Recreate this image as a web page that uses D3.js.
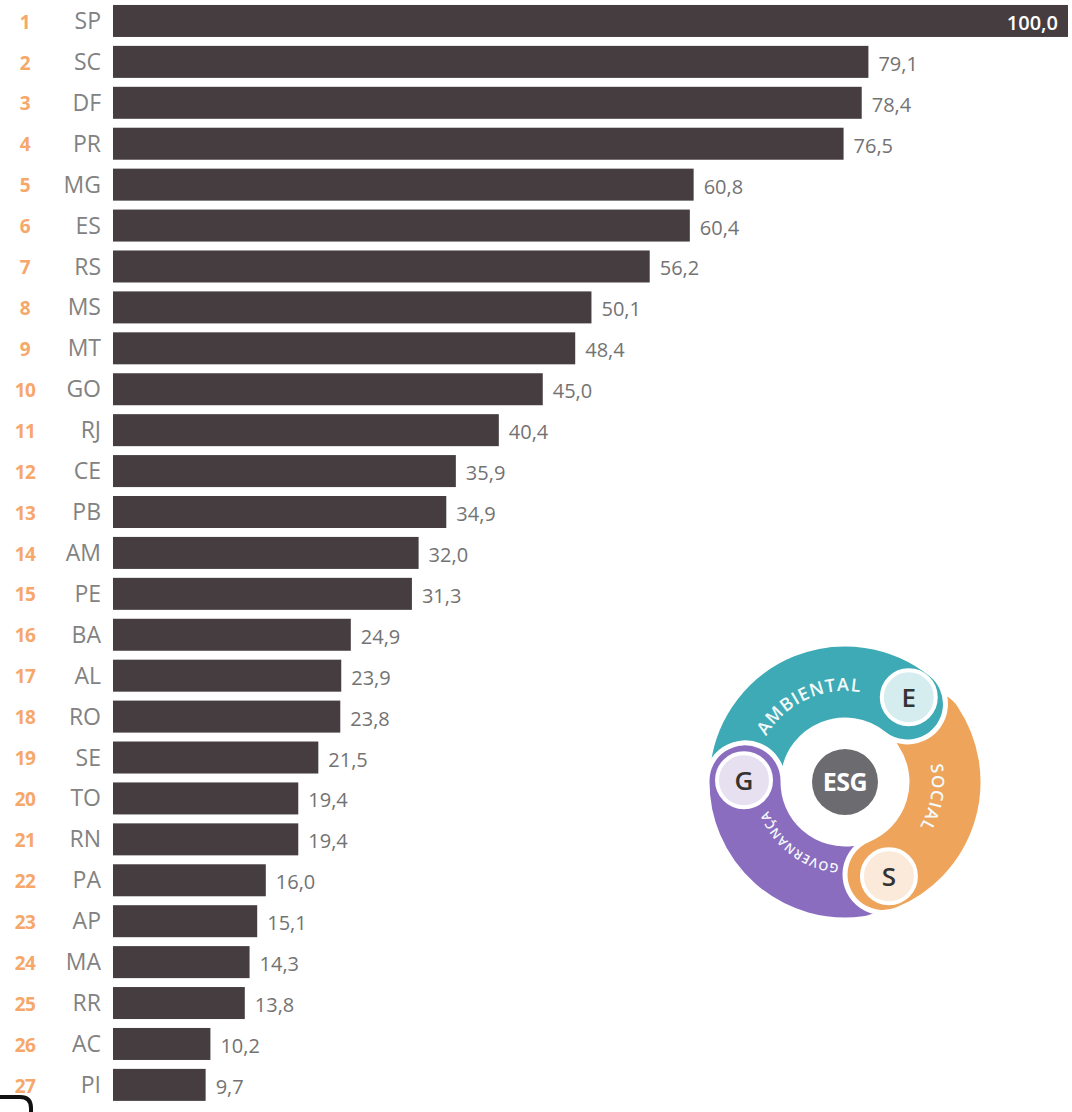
<!DOCTYPE html>
<html>
<head>
<meta charset="utf-8">
<script src="https://cdn.jsdelivr.net/npm/d3@7"></script>
<style>
  html, body { margin: 0; padding: 0; background: #ffffff; }
  svg { display: block; }
</style>
</head>
<body>
<svg id="chart" width="1072" height="1112"></svg>
<script>
// ---- data ----
const ranks = ["1","2","3","4","5","6","7","8","9","10","11","12","13","14","15","16","17","18","19","20","21","22","23","24","25","26","27"];
const states = ["SP","SC","DF","PR","MG","ES","RS","MS","MT","GO","RJ","CE","PB","AM","PE","BA","AL","RO","SE","TO","RN","PA","AP","MA","RR","AC","PI"];
const values = [100.0,79.1,78.4,76.5,60.8,60.4,56.2,50.1,48.4,45.0,40.4,35.9,34.9,32.0,31.3,24.9,23.9,23.8,21.5,19.4,19.4,16.0,15.1,14.3,13.8,10.2,9.7];
const esgLabels = ["AMBIENTAL","SOCIAL","GOVERNANÇA"];
const esgLetters = ["E","S","G"];

const rows = states.map((s, i) => ({ rank: ranks[i], state: s, value: values[i] }));

const svg = d3.select("#chart");
const font = "'Open Sans', 'Noto Sans', sans-serif";

const x = d3.scaleLinear().domain([0, 100]).range([113, 1068]);
const step = 40.92;
const y = d3.scaleBand().domain(states).range([0.5, 0.5 + step * states.length])
  .paddingInner(0.218).paddingOuter(0.109);

const fmt = v => d3.format(".1f")(v).replace(".", ",");

const g = svg.append("g");

// bars
g.selectAll("rect.bar").data(rows).join("rect")
  .attr("class", "bar")
  .attr("x", x(0))
  .attr("y", d => y(d.state))
  .attr("width", d => x(d.value) - x(0))
  .attr("height", y.bandwidth())
  .attr("fill", "#453d3f");

// rank numbers
g.selectAll("text.rank").data(rows).join("text")
  .attr("class", "rank")
  .attr("x", 25)
  .attr("y", d => y(d.state) + y.bandwidth() / 2 + 1)
  .attr("dy", "0.35em")
  .attr("text-anchor", "middle")
  .attr("font-family", font)
  .attr("font-weight", 700)
  .attr("font-size", 19)
  .attr("letter-spacing", -0.5)
  .attr("fill", "#f6a76a")
  .text(d => d.rank);

// state labels
g.selectAll("text.state").data(rows).join("text")
  .attr("class", "state")
  .attr("x", 101)
  .attr("y", d => y(d.state) + y.bandwidth() / 2)
  .attr("dy", "0.35em")
  .attr("text-anchor", "end")
  .attr("font-family", font)
  .attr("font-size", 23)
  .attr("fill", "#828282")
  .text(d => d.state);

// value labels
g.selectAll("text.val").data(rows).join("text")
  .attr("class", "val")
  .attr("x", d => d.value >= 95 ? x(d.value) - 10 : x(d.value) + 10)
  .attr("y", d => y(d.state) + y.bandwidth() / 2 + 2)
  .attr("dy", "0.35em")
  .attr("text-anchor", d => d.value >= 95 ? "end" : "start")
  .attr("font-family", font)
  .attr("font-size", 20)
  .attr("font-weight", d => d.value >= 95 ? 600 : 400)
  .attr("fill", d => d.value >= 95 ? "#ffffff" : "#737373")
  .text(d => fmt(d.value));

// ---- ESG logo ----
const cx = 845, cy = 782;
const r0 = 62, r1 = 138;
const rad = deg => deg * Math.PI / 180;
const logo = svg.append("g").attr("transform", `translate(${cx},${cy})`);
const arc = d3.arc().innerRadius(r0).outerRadius(r1).cornerRadius(38);

const segs = [
  { color: "#8b6dc0", a0: 150, a1: 293 },
  { color: "#eea55b", a0: 34, a1: 180 },
  { color: "#3eaab5", a0: 255, a1: 421 }
];

const defs = svg.append("defs");
defs.append("clipPath").attr("id", "wedge")
  .append("path")
  .attr("d", d3.arc().innerRadius(0).outerRadius(170)({ startAngle: rad(230), endAngle: rad(320) }));

segs.forEach(s => {
  logo.append("path")
    .attr("d", arc({ startAngle: rad(s.a0), endAngle: rad(s.a1) }))
    .attr("fill", s.color)
    .attr("stroke", "#ffffff")
    .attr("stroke-width", 5);
});
// purple end over teal start (clipped)
logo.append("g").attr("clip-path", "url(#wedge)")
  .append("path")
  .attr("d", arc({ startAngle: rad(segs[0].a0), endAngle: rad(segs[0].a1) }))
  .attr("fill", segs[0].color)
  .attr("stroke", "#ffffff")
  .attr("stroke-width", 5);

// badges
const badges = [
  { letter: esgLetters[0], ang: 37, r: 106, fill: "#d6edf0" },
  { letter: esgLetters[1], ang: 155, r: 104, fill: "#fbe9da" },
  { letter: esgLetters[2], ang: 271, r: 101, fill: "#e6e0f1" }
];
badges.forEach(b => {
  const bx = b.r * Math.sin(rad(b.ang)), by = -b.r * Math.cos(rad(b.ang));
  logo.append("circle").attr("cx", bx).attr("cy", by).attr("r", 27)
    .attr("fill", b.fill).attr("stroke", "#ffffff").attr("stroke-width", 4);
  logo.append("text").attr("x", bx).attr("y", by).attr("dy", "0.36em")
    .attr("text-anchor", "middle").attr("font-family", font)
    .attr("font-weight", 600).attr("font-size", 26).attr("fill", "#333333")
    .text(b.letter);
});

// center
logo.append("circle").attr("r", 33).attr("fill", "#6c6b6f");
logo.append("text").attr("dy", "0.35em").attr("text-anchor", "middle")
  .attr("font-family", font).attr("font-weight", 700).attr("font-size", 25)
  .attr("letter-spacing", -0.5)
  .attr("fill", "#ffffff").text("ESG");

// curved labels
const curve = [
  { id: "pA", text: esgLabels[0], r: 91, a0: -75, a1: 25, size: 18, ls: 1 },
  { id: "pS", text: esgLabels[1], r: 87, a0: 65, a1: 135, size: 17, ls: 1 },
  { id: "pG", text: esgLabels[2], r: 82, a0: 170, a1: 264, size: 12.5, ls: 0.8 }
];
curve.forEach(c => {
  const p = d3.path();
  p.arc(cx, cy, c.r, rad(c.a0 - 90), rad(c.a1 - 90), false);
  defs.append("path").attr("id", c.id).attr("d", p.toString());
  svg.append("text")
    .attr("font-family", font).attr("font-weight", 600).attr("font-size", c.size)
    .attr("fill", "#f4fafa").attr("letter-spacing", c.ls)
    .append("textPath").attr("href", "#" + c.id)
    .attr("startOffset", "50%").attr("text-anchor", "middle")
    .text(c.text);
});

// stray frame corner at bottom-left (as in the source image)
svg.append("path")
  .attr("d", "M0,1097 H20 Q31,1097 31,1108 V1112")
  .attr("fill", "none").attr("stroke", "#111111").attr("stroke-width", 4);
</script>
</body>
</html>
